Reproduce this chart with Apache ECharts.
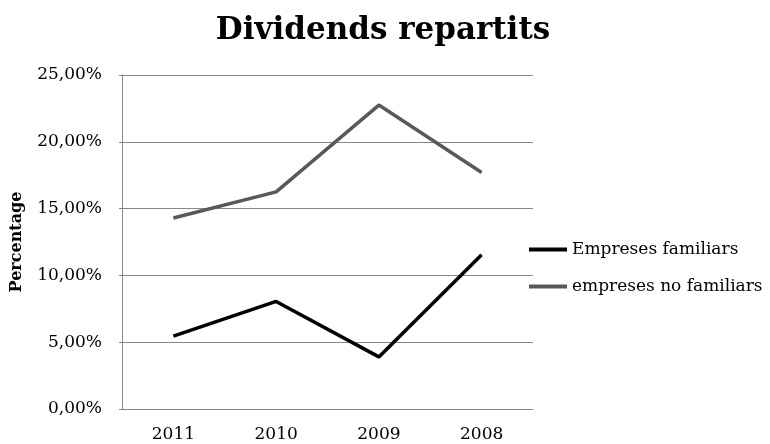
<!DOCTYPE html>
<html>
<head>
<meta charset="utf-8">
<script src="https://cdn.jsdelivr.net/npm/echarts@6/dist/echarts.min.js"></script>
<style>
  html, body { margin: 0; padding: 0; background: #fff; }
  #main { width: 770px; height: 444px; }
</style>
</head>
<body>
<div id="main"></div>
<script>
    // dades del gràfic
    var anys = ['2011', '2010', '2009', '2008'];
    var familiars = [5.45, 8.05, 3.9, 11.55];
    var noFamiliars = [14.3, 16.25, 22.75, 17.7];
    var yTicks = [0, 5, 10, 15, 20, 25];

    var serif = '"DejaVu Serif", "Liberation Serif", serif';

    var myChart = echarts.init(document.getElementById('main'));

    var option = {
        backgroundColor: '#fff',
        animation: false,
        title: {
            text: 'Dividends repartits',
            left: 378,
            textAlign: 'center',
            top: 10,
            textStyle: { fontFamily: serif, fontWeight: 'bold', fontSize: 31, color: '#000' }
        },
        legend: {
            orient: 'vertical',
            left: 524,
            top: 236,
            itemGap: 20,
            itemWidth: 38,
            itemHeight: 4,
            icon: 'rect',
            textStyle: { fontFamily: serif, fontSize: 17, color: '#000' },
            data: ['Empreses familiars', 'empreses no familiars']
        },
        grid: { left: 122, right: 237, top: 75, bottom: 35, containLabel: false, outerBoundsMode: 'none' },
        xAxis: {
            type: 'category',
            data: anys,
            boundaryGap: true,
            axisLine: { lineStyle: { color: '#888', width: 1 } },
            axisTick: { show: false },
            axisLabel: { fontFamily: serif, fontSize: 17, color: '#000', margin: 17 }
        },
        yAxis: {
            type: 'value',
            min: yTicks[0],
            max: yTicks[yTicks.length - 1],
            interval: 5,
            name: 'Percentage',
            nameLocation: 'middle',
            nameGap: 97,
            nameTextStyle: { fontFamily: serif, fontWeight: 'bold', fontSize: 16, color: '#000' },
            axisLine: { show: true, lineStyle: { color: '#888', width: 1 } },
            axisTick: { show: true, length: 3, lineStyle: { color: '#888' } },
            splitLine: { lineStyle: { color: '#888', width: 1 } },
            axisLabel: {
                fontFamily: serif, fontSize: 17, color: '#000', margin: 20,
                formatter: function (v) { return v.toFixed(2).replace('.', ',') + '%'; }
            }
        },
        series: [{
            name: 'Empreses familiars',
            type: 'line',
            data: familiars,
            symbol: 'none',
            lineStyle: { color: '#000', width: 3.5 },
            itemStyle: { color: '#000' }
        }, {
            name: 'empreses no familiars',
            type: 'line',
            data: noFamiliars,
            symbol: 'none',
            lineStyle: { color: '#595959', width: 3.5 },
            itemStyle: { color: '#595959' }
        }]
    };
    myChart.setOption(option);
</script>
</body>
</html>
